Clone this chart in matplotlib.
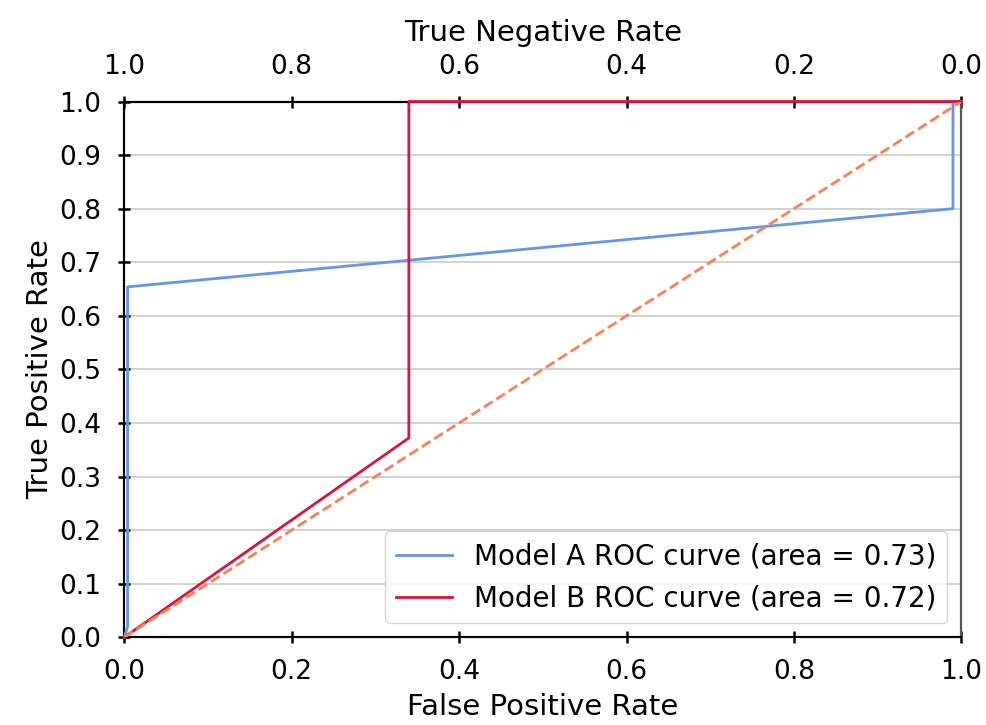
import numpy as np
import matplotlib.pyplot as plt

fpr_a = [0.0, 0.004, 0.004, 0.99, 0.99, 1.0]
tpr_a = [0.0, 0.02, 0.654, 0.80, 1.0, 1.0]
fpr_b = [0.0, 0.340, 0.340, 1.0]
tpr_b = [0.0, 0.372, 1.0, 1.0]
auc_a = 0.73
auc_b = 0.72
ticks = [0.0, 0.2, 0.4, 0.6, 0.8, 1.0]

plt.rcParams.update({
    'font.size': 19,
    'xtick.labelsize': 19,
    'ytick.labelsize': 19,
    'xtick.direction': 'inout',
    'ytick.direction': 'inout',
    'xtick.major.size': 9,
    'ytick.major.size': 9,
    'xtick.major.width': 1.8,
    'ytick.major.width': 1.8,
    'xtick.major.pad': 11,
    'ytick.major.pad': 12,
    'axes.linewidth': 1.5,
})

fig, ax = plt.subplots(figsize=(9.86, 7.25), dpi=100)
fig.subplots_adjust(left=0.126, right=0.975, bottom=0.121, top=0.86)

ax2 = ax.twiny()
ax.set_zorder(ax2.get_zorder() + 1)
ax.patch.set_visible(False)

ax.plot(fpr_a, tpr_a, color='cornflowerblue', lw=2, zorder=3, clip_on=False,
        label='Model A ROC curve (area = %0.2f)' % auc_a)
ax.plot(fpr_b, tpr_b, color='crimson', lw=2, zorder=3, clip_on=False,
        label='Model B ROC curve (area = %0.2f)' % auc_b)
ax.plot([0, 1], [0, 1], color='coral', lw=2, ls='--', zorder=3)

ax.set_xlim(0.0, 1.0)
ax.set_ylim(0.0, 1.0)
ax.set_yticks(np.arange(0, 1.01, 0.1))
ax.set_xticks(ticks)
ax.yaxis.grid(True, color='#d3d3d3', lw=1.5)
ax.set_axisbelow(True)
ax.set_xlabel('False Positive Rate', fontsize=21, labelpad=6)
ax.set_ylabel('True Positive Rate', fontsize=21, labelpad=4)
ax.spines['right'].set_color('#555555')
ax.legend(loc='lower right', fontsize=20)

ax2.set_xlim(ax.get_xlim())
ax2.set_xticks(ticks)
ax2.set_xticklabels(['%.1f' % (1 - t) for t in ticks])
ax2.set_xlabel('True Negative Rate', fontsize=21, labelpad=9)

plt.savefig('out.png')
